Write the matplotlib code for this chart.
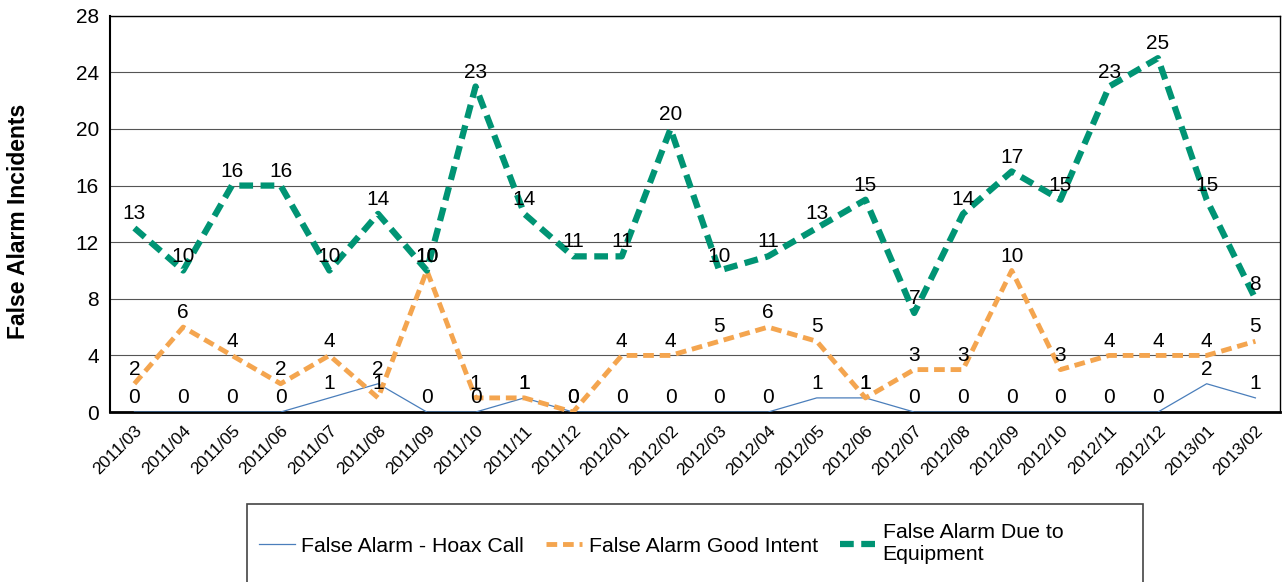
import matplotlib.pyplot as plt
from matplotlib.patches import Rectangle
import numpy as np

plt.rcParams['font.family'] = ['Liberation Sans', 'DejaVu Sans']

months = ['2011/03', '2011/04', '2011/05', '2011/06', '2011/07', '2011/08', '2011/09', '2011/10',
          '2011/11', '2011/12', '2012/01', '2012/02', '2012/03', '2012/04', '2012/05', '2012/06',
          '2012/07', '2012/08', '2012/09', '2012/10', '2012/11', '2012/12', '2013/01', '2013/02']
hoax = [0, 0, 0, 0, 1, 2, 0, 0, 1, 0, 0, 0, 0, 0, 1, 1, 0, 0, 0, 0, 0, 0, 2, 1]
good_intent = [2, 6, 4, 2, 4, 1, 10, 1, 1, 0, 4, 4, 5, 6, 5, 1, 3, 3, 10, 3, 4, 4, 4, 5]
equipment = [13, 10, 16, 16, 10, 14, 10, 23, 14, 11, 11, 20, 10, 11, 13, 15, 7, 14, 17, 15, 23, 25, 15, 8]

fig = plt.figure(figsize=(12.84, 5.82), dpi=100)
ax = fig.add_axes([0.0857, 0.292, 0.911, 0.681])
x = np.arange(len(months))

ax.plot(x, hoax, color='#4A7EBB', lw=0.9, label='False Alarm - Hoax Call', zorder=3)
ax.plot(x, good_intent, color='#F4A54F', lw=3.5, dashes=(2.2, 1.2),
        label='False Alarm Good Intent', zorder=4)
ax.plot(x, equipment, color='#009474', lw=4.5, dashes=(2.2, 1.2),
        label='False Alarm Due to\nEquipment', zorder=5)

for series in (hoax, good_intent, equipment):
    for xi, v in zip(x, series):
        ax.annotate(str(v), (xi, v), xytext=(0, 3.5), textcoords='offset points',
                    ha='center', va='bottom', fontsize=15, zorder=6)

ax.set_xlim(-0.5, len(months) - 0.5)
ax.set_ylim(0, 28)
ax.set_yticks(range(0, 29, 4))
ax.tick_params(axis='y', labelsize=15, length=0, pad=8)
ax.set_xticks(x)
ax.set_xticklabels(months, rotation=45, ha='right', rotation_mode='anchor', fontsize=12.5)
ax.tick_params(axis='x', length=0, pad=8)
ax.grid(axis='y', color='#555555', lw=0.8)
ax.set_axisbelow(True)
for s in ax.spines.values():
    s.set_color('black')
    s.set_linewidth(1)
ax.spines['bottom'].set_linewidth(2)
ax.spines['left'].set_linewidth(1.5)
fig.text(19 / 1284, 1 - 221 / 582, 'False Alarm Incidents', rotation=90, ha='center', va='center',
         fontsize=16.5, fontweight='bold')

# legend box running off the bottom of the figure
fig.patches.append(Rectangle((247 / 1284, -0.05), (1143 - 247) / 1284, 1 - 504 / 582 + 0.05,
                             transform=fig.transFigure, fill=False, edgecolor='#444444', lw=1.2))
handles, labels = ax.get_legend_handles_labels()
fig.legend(handles, labels, ncol=3, frameon=False, loc='center',
           bbox_to_anchor=(661 / 1284, 1 - 544 / 582), fontsize=15.3,
           handlelength=1.7, handletextpad=0.3, columnspacing=1.05)

fig.savefig('out.png', dpi=100)
